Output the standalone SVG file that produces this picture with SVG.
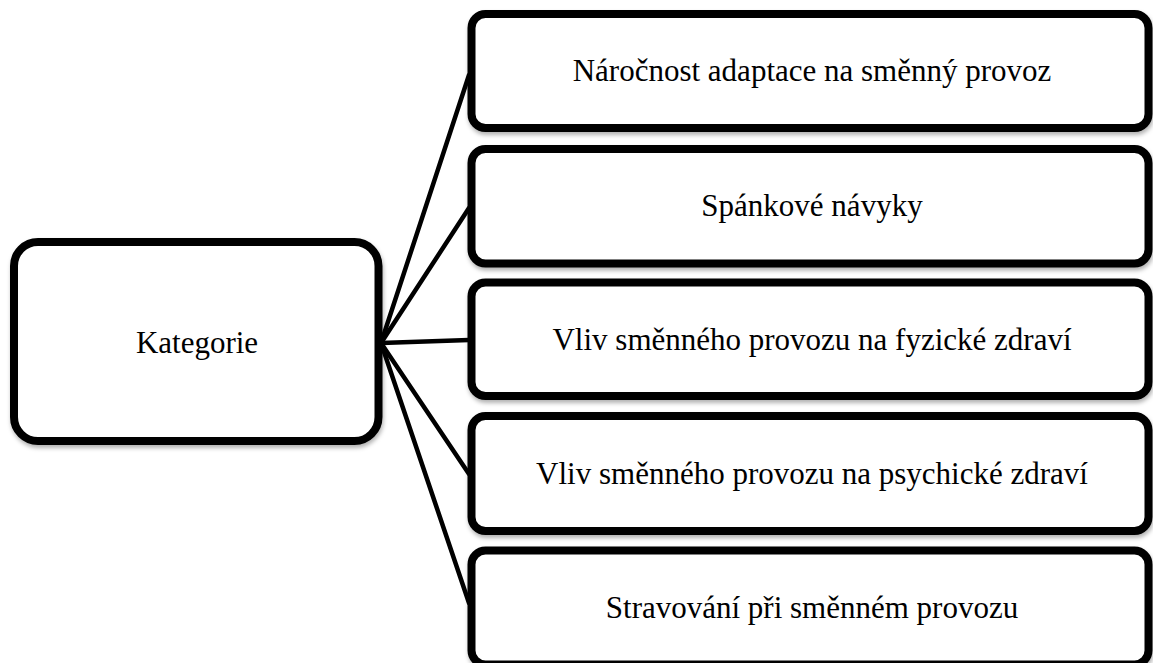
<svg xmlns="http://www.w3.org/2000/svg" width="1153" height="663" viewBox="0 0 1153 663">
  <defs>
    <filter id="shadow" x="-5%" y="-5%" width="112%" height="115%">
      <feDropShadow dx="1" dy="3" stdDeviation="2" flood-color="#000" flood-opacity="0.3"/>
    </filter>
    <style>
      .box { fill: #fff; stroke: #000; stroke-width: 8; filter: url(#shadow); }
      .link { stroke: #000; stroke-width: 4.5; fill: none; stroke-linecap: round; }
      .label { font-family: "Liberation Serif", "Times New Roman", serif; font-size: 31px; fill: #000; text-anchor: middle; }
    </style>
  </defs>
  <rect width="1153" height="663" fill="#fff"/>

  <!-- root node -->
  <g id="node-kategorie">
    <rect class="box" x="14" y="242" width="364.5" height="199" rx="24" ry="24"/>
    <text class="label" x="197" y="352.5">Kategorie</text>
  </g>

  <!-- child nodes -->
  <g id="node-adaptace">
    <rect class="box" x="471.5" y="14" width="677" height="114" rx="14" ry="14"/>
    <text class="label" x="812" y="81">Náročnost adaptace na směnný provoz</text>
  </g>
  <g id="node-spanek">
    <rect class="box" x="471.5" y="149" width="677" height="114.5" rx="14" ry="14"/>
    <text class="label" x="812" y="216">Spánkové návyky</text>
  </g>
  <g id="node-fyzicke">
    <rect class="box" x="471.5" y="282.5" width="677" height="113.5" rx="14" ry="14"/>
    <text class="label" x="812" y="349.5">Vliv směnného provozu na fyzické zdraví</text>
  </g>
  <g id="node-psychicke">
    <rect class="box" x="471.5" y="416" width="677" height="115" rx="14" ry="14"/>
    <text class="label" x="812" y="484">Vliv směnného provozu na psychické zdraví</text>
  </g>
  <g id="node-stravovani">
    <rect class="box" x="471.5" y="550.5" width="677" height="114" rx="14" ry="14"/>
    <text class="label" x="812" y="618">Stravování při směnném provozu</text>
  </g>

  <!-- connectors from the root to each child -->
  <g id="connectors">
    <line class="link" x1="381" y1="343" x2="469" y2="75"/>
    <line class="link" x1="381" y1="343" x2="469" y2="208"/>
    <line class="link" x1="381" y1="343" x2="469" y2="340"/>
    <line class="link" x1="381" y1="343" x2="469" y2="474"/>
    <line class="link" x1="381" y1="343" x2="469" y2="603"/>
  </g>
</svg>
